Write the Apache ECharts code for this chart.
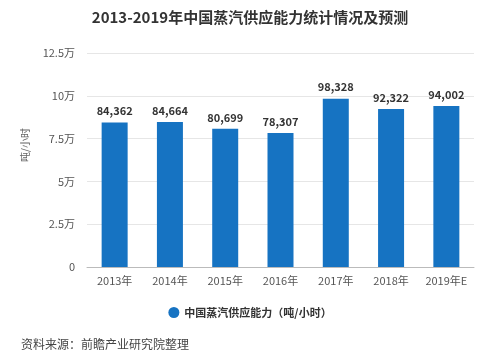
<!DOCTYPE html>
<html>
<head>
<meta charset="utf-8">
<script src="https://cdn.jsdelivr.net/npm/echarts@6/dist/echarts.min.js"></script>
<style>
html,body{margin:0;padding:0;background:#fff;}
#main{width:500px;height:362px;}
</style>
</head>
<body>
<div id="main"></div>
<script>
var categories = ['2013年','2014年','2015年','2016年','2017年','2018年','2019年E'];
var supplyValues = [84362, 84664, 80699, 78307, 98328, 92322, 94002];
var yTicks = [0, 25000, 50000, 75000, 100000, 125000];
var titleText = '2013-2019年中国蒸汽供应能力统计情况及预测';
var seriesName = '中国蒸汽供应能力（吨/小时）';
var yAxisName = '吨/小时';
var sourceText = '资料来源：前瞻产业研究院整理';

var FONT = '"Noto Sans CJK SC", "Noto Sans", sans-serif';
var chart = echarts.init(document.getElementById('main'), null, {renderer: 'canvas'});
chart.setOption({
  backgroundColor: '#ffffff',
  textStyle: {fontFamily: FONT},
  title: [{
    text: titleText,
    left: 'center',
    top: 5,
    textStyle: {fontSize: 15, fontWeight: 'bold', color: '#333', fontFamily: FONT}
  }, {
    text: sourceText,
    left: 16,
    top: 333,
    textStyle: {fontSize: 12, fontWeight: 'normal', color: '#444', fontFamily: FONT}
  }],
  legend: {
    data: [seriesName],
    left: 'center',
    top: 302,
    icon: 'circle',
    itemWidth: 11,
    itemHeight: 11,
    itemGap: 5,
    textStyle: {fontSize: 11, color: '#333', fontWeight: 'bold', fontFamily: FONT}
  },
  grid: {left: 87, right: 26, top: 53, bottom: 95},
  xAxis: {
    type: 'category',
    data: categories,
    axisLine: {lineStyle: {color: '#bbb'}},
    axisTick: {alignWithLabel: true, length: 4, lineStyle: {color: '#bbb'}},
    axisLabel: {fontSize: 11, color: '#555', margin: 8, fontFamily: FONT}
  },
  yAxis: {
    type: 'value',
    min: yTicks[0],
    max: yTicks[yTicks.length - 1],
    interval: yTicks[1] - yTicks[0],
    name: yAxisName,
    nameLocation: 'middle',
    nameGap: 57,
    nameRotate: 90,
    nameTextStyle: {fontSize: 10, color: '#666', fontFamily: FONT, padding: [0, 0, 0, 30]},
    axisLine: {show: false},
    axisTick: {show: false},
    splitLine: {lineStyle: {color: '#e6e6e6'}},
    axisLabel: {
      fontSize: 11, color: '#555', margin: 12, fontFamily: FONT,
      formatter: function (v) { return v === 0 ? '0' : (v / 10000) + '万'; }
    }
  },
  series: [{
    name: seriesName,
    type: 'bar',
    data: supplyValues,
    barWidth: 26,
    itemStyle: {color: '#1673c2'},
    label: {
      show: true,
      position: 'top',
      distance: 6,
      fontSize: 11,
      fontWeight: 'bold',
      color: '#333',
      fontFamily: FONT,
      formatter: function (p) { return p.value.toLocaleString('en-US'); }
    }
  }]
});
</script>
</body>
</html>
